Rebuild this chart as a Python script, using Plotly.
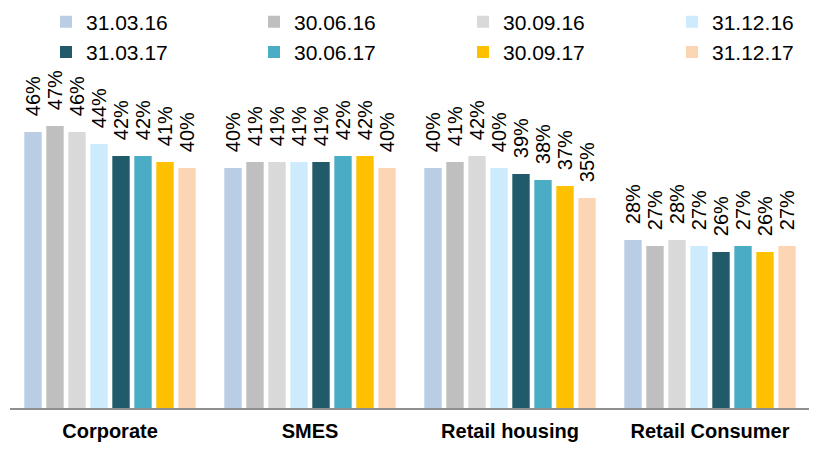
import plotly.graph_objects as go

categories = ["Corporate", "SMES", "Retail housing", "Retail Consumer"]
series_names = ["31.03.16", "30.06.16", "30.09.16", "31.12.16",
                "31.03.17", "30.06.17", "30.09.17", "31.12.17"]
values = [
    [46, 40, 40, 28],
    [47, 41, 41, 27],
    [46, 41, 42, 28],
    [44, 41, 40, 27],
    [42, 41, 39, 26],
    [42, 42, 38, 27],
    [41, 42, 37, 26],
    [40, 40, 35, 27],
]
colors = ["#B9CDE5", "#BFBFBF", "#D9D9D9", "#CDEBFD",
          "#215A69", "#4BACC6", "#FFC000", "#FCD5B5"]

FONT = "Liberation Sans, Arial, sans-serif"
legend_ids = ["legend", "legend2", "legend3", "legend4"]
# page offset of the default html body margin
OFF = 8
legend_x_px = [46, 254, 463, 672]

fig = go.Figure()
for i, (name, vals, col) in enumerate(zip(series_names, values, colors)):
    fig.add_trace(go.Bar(
        x=categories, y=vals, name=name,
        marker=dict(color=col, line=dict(width=0)),
        text=vals,
        texttemplate="\u00a0\u00a0\u200a%{y}%",
        textposition="outside",
        textangle=-90,
        constraintext="none",
        cliponaxis=False,
        textfont=dict(family=FONT, size=20, color="#000000"),
        outsidetextfont=dict(family=FONT, size=20, color="#000000"),
        legend=legend_ids[i % 4],
        legendgroup=name,
    ))

W, H = 817 - OFF, 454 - OFF
ml, mr, mt, mb = 10 - OFF, 7, 48 - OFF, 46
pw = W - ml - mr

layout_legends = {}
for k, lid in enumerate(legend_ids):
    layout_legends[lid] = dict(
        x=(legend_x_px[k] - 10) / pw, xanchor="left",
        y=1.129, yanchor="top",
        orientation="v",
        bgcolor="rgba(0,0,0,0)",
        font=dict(family=FONT, size=21, color="#000000"),
        tracegroupgap=0,
    )

fig.update_layout(
    width=W, height=H,
    margin=dict(l=ml, r=mr, t=mt, b=mb, autoexpand=False),
    plot_bgcolor="white", paper_bgcolor="white",
    barmode="group", bargap=0.12, bargroupgap=0.21,
    showlegend=True,
    **layout_legends,
)
fig.update_xaxes(
    showline=True, linecolor="#8f8f8f", linewidth=2,
    ticks="", showgrid=False, ticklabelstandoff=4,
    tickfont=dict(family=FONT, size=20, color="#000000", weight="bold"),
)
fig.update_yaxes(range=[0, 60], visible=False, showgrid=False)

fig.write_html("out.html")
